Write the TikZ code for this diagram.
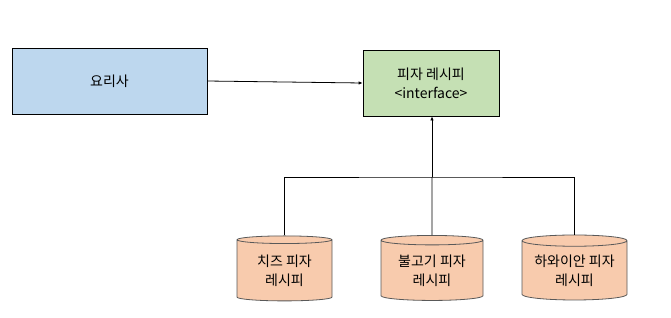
\documentclass[tikz,border=0pt]{standalone}
\usepackage{fontspec}
\setmainfont{Noto Sans CJK KR}
\usetikzlibrary{arrows.meta,shapes.geometric}
\definecolor{bluefill}{HTML}{BDD7EE}
\definecolor{greenfill}{HTML}{C5E0B4}
\definecolor{orangefill}{HTML}{F8CBAD}
\definecolor{cylborder}{HTML}{595959}
\begin{document}
\begin{tikzpicture}[x=1pt,y=-1pt,
  boxnode/.style={draw=black,line width=0.8pt,inner sep=0pt,font=\fontsize{14}{20}\selectfont,align=center},
  recipe/.style={cylinder,shape border rotate=90,draw=cylborder,line width=0.8pt,fill=orangefill,
     minimum height=65pt,aspect=0.14,inner sep=0pt,
     font=\fontsize{14}{19}\selectfont,align=center},
  link/.style={draw=black,line width=0.8pt},
  arr/.style={link,-{Latex[length=4pt,width=3.5pt]}}]
\useasboundingbox (0,0) rectangle (671,317);
\node[boxnode,fill=bluefill,minimum width=195pt,minimum height=66pt] (cook) at (109.5,81) {요리사};
\node[boxnode,fill=greenfill,minimum width=136pt,minimum height=66pt] (iface) at (431,83) {피자 레시피\\[-1pt]<interface>};
\node[recipe,minimum width=95pt] (cheese) at (284.5,270.5) {치즈 피자\\레시피};
\node[recipe,minimum width=102pt] (bulgogi) at (432,270.5) {불고기 피자\\레시피};
\node[recipe,minimum width=105pt] (hawaii) at (574.5,270.5) {하와이안 피자\\레시피};
\coordinate (hub) at (432,177);
\draw[arr] (cook.east) -- (iface.west);
\draw[arr] (hub) -- (iface.south -| hub);
\draw[link] (cheese.north) |- (hub) -| (hawaii.north);
\draw[link] (bulgogi.north) -- (hub);
\end{tikzpicture}
\end{document}
